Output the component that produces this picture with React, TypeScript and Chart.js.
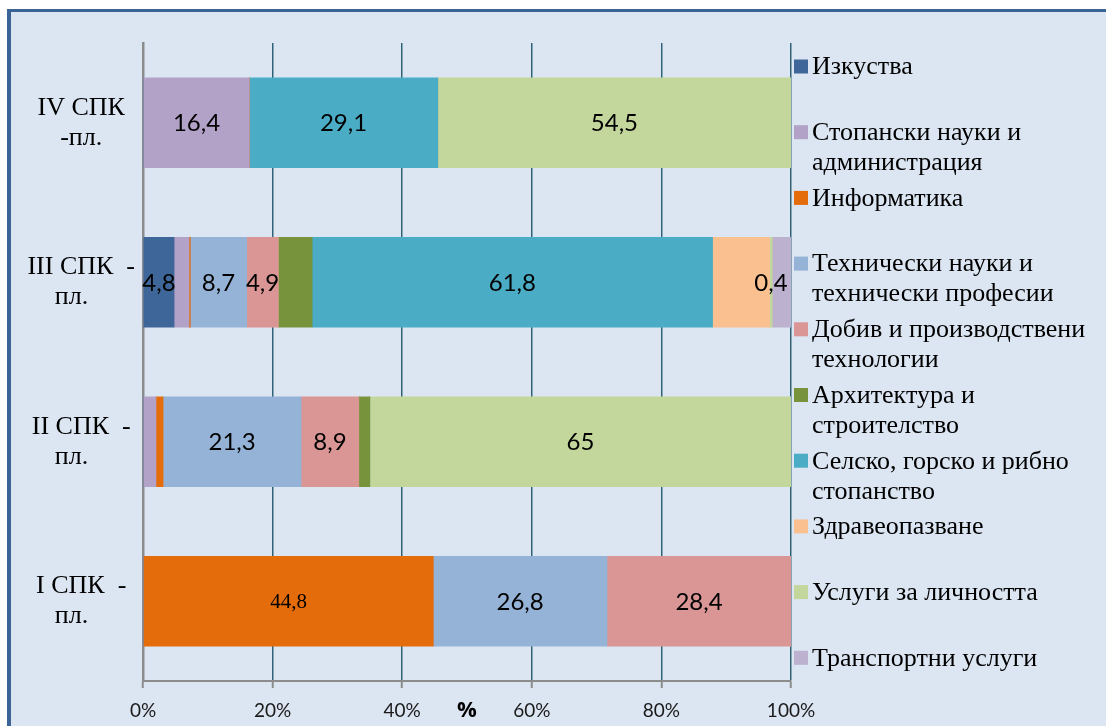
import React, { useEffect, useRef } from 'react';
import { Chart, registerables } from 'chart.js';

Chart.register(...registerables);

// Categories, top to bottom
const categories = [
  ['IV СПК', '-пл.'],
  ['III СПК  -', 'пл.   '],
  ['II СПК  -', 'пл.   '],
  ['I СПК  -', 'пл.   '],
];

// Series names (legend lines)
const seriesNames = [
  ['Изкуства'],
  ['Стопански науки и', 'администрация'],
  ['Информатика'],
  ['Технически науки и', 'технически професии'],
  ['Добив и производствени', 'технологии'],
  ['Архитектура и', 'строителство'],
  ['Селско, горско и рибно', 'стопанство'],
  ['Здравеопазване'],
  ['Услуги за личността'],
  ['Транспортни услуги'],
];

// Values (%) in category order IV, III, II, I
const izkustva = [0, 4.8, 0, 0];
const stopanski = [16.4, 2.3, 2.0, 0];
const informatika = [0, 0.2, 1.1, 44.8];
const tehnicheski = [0, 8.7, 21.3, 26.8];
const dobiv = [0, 4.9, 8.9, 28.4];
const arhitektura = [0, 5.2, 1.7, 0];
const selsko = [29.1, 61.8, 0, 0];
const zdraveopazvane = [0, 8.8, 0, 0];
const uslugi = [54.5, 0.4, 65, 0];
const transport = [0, 2.9, 0, 0];

const seriesValues = [
  izkustva, stopanski, informatika, tehnicheski, dobiv,
  arhitektura, selsko, zdraveopazvane, uslugi, transport,
];

const seriesColors = [
  '#3F6699', '#B3A2C7', '#E46C0A', '#95B3D7', '#D99694',
  '#77933C', '#4BACC6', '#FAC090', '#C3D69B', '#BCB1CF',
];

// Axis ticks
const xTickValues = [0, 20, 40, 60, 80, 100];
const xTitle = '%';

// Which data labels are shown: [series index, category index]
const shownLabels: [number, number][] = [
  [1, 0], [6, 0], [8, 0],
  [0, 1], [3, 1], [4, 1], [6, 1], [8, 1],
  [3, 2], [4, 2], [8, 2],
  [2, 3], [3, 3], [4, 3],
];
const serifLabel: [number, number] = [2, 3];

const W = 1106;
const H = 726;

const backgroundPlugin = {
  id: 'panelBackground',
  beforeDraw(chart: any) {
    const ctx = chart.ctx;
    ctx.save();
    ctx.fillStyle = '#FFFFFF';
    ctx.fillRect(0, 0, W, H);
    ctx.fillStyle = '#DCE6F2';
    ctx.fillRect(7, 9, W, H);
    ctx.fillStyle = '#3A6496';
    ctx.fillRect(7, 9, W, 3);
    ctx.fillRect(7, 9, 4, H);
    ctx.restore();
  },
};

const dataLabelPlugin = {
  id: 'segmentLabels',
  afterDatasetsDraw(chart: any) {
    const ctx = chart.ctx;
    ctx.save();
    ctx.textAlign = 'center';
    ctx.textBaseline = 'middle';
    ctx.fillStyle = '#000000';
    for (const [ds, cat] of shownLabels) {
      const el = chart.getDatasetMeta(ds).data[cat];
      if (!el) continue;
      const v = seriesValues[ds][cat];
      const txt = String(v).replace('.', ',');
      const isSerif = ds === serifLabel[0] && cat === serifLabel[1];
      ctx.font = isSerif ? '21px "Liberation Serif"' : '24px Lato';
      const cx = (el.x + el.base) / 2;
      ctx.fillText(txt, cx, el.y + 1);
    }
    ctx.restore();
  },
};

const legendPlugin = {
  id: 'sideLegend',
  afterDraw(chart: any) {
    const ctx = chart.ctx;
    const top = 67.5;
    const step = 65.7;
    const lineH = 30;
    ctx.save();
    ctx.font = '26px "Liberation Serif"';
    ctx.textAlign = 'left';
    ctx.textBaseline = 'middle';
    seriesNames.forEach((lines, i) => {
      const y = top + i * step;
      ctx.fillStyle = seriesColors[i];
      ctx.fillRect(794, y - 8, 14, 14);
      ctx.fillStyle = '#000000';
      lines.forEach((ln, j) => {
        ctx.fillText(ln, 812, y + j * lineH);
      });
    });
    ctx.restore();
  },
};

export default function App() {
  const ref = useRef<HTMLCanvasElement | null>(null);

  useEffect(() => {
    if (!ref.current) return;
    const chart = new Chart(ref.current, {
      type: 'bar',
      data: {
        labels: categories as any,
        datasets: seriesValues.map((vals, i) => ({
          label: seriesNames[i].join(' '),
          data: vals,
          backgroundColor: seriesColors[i],
          borderWidth: 0,
          barThickness: 90,
        })),
      },
      options: {
        indexAxis: 'y',
        responsive: false,
        animation: false,
        layout: { padding: { left: 10, right: 315, top: 43, bottom: 0 } },
        plugins: {
          legend: { display: false },
          tooltip: { enabled: false },
        },
        scales: {
          x: {
            stacked: true,
            min: 0,
            max: 100,
            afterBuildTicks: (scale: any) => {
              scale.ticks = xTickValues.map((v) => ({ value: v }));
            },
            afterFit: (scale: any) => {
              scale.height = 45;
            },
            ticks: {
              callback: (v: any) => v + '%',
              font: { family: 'Lato', size: 19 },
              color: '#1A1A1A',
              padding: 11,
              maxRotation: 0,
            },
            grid: {
              color: (c: any) => (c.index === 0 ? '#8C8C8C' : '#2F6276'),
              lineWidth: 1.5,
              drawTicks: true,
              tickLength: 7,
              tickColor: '#8C8C8C',
              tickWidth: 2,
            },
            border: { display: true, color: '#8C8C8C', width: 2 },
            title: {
              display: true,
              text: xTitle,
              font: { family: 'Open Sans', size: 22, weight: '700' },
              color: '#000000',
              padding: { top: 0, bottom: 2 },
            },
          },
          y: {
            stacked: true,
            afterFit: (scale: any) => {
              scale.width = 133;
            },
            ticks: {
              font: { family: 'Liberation Serif', size: 26, lineHeight: 1.15 },
              color: '#000000',
              crossAlign: 'center',
              padding: 8,
            },
            grid: { display: false, drawTicks: false },
            border: { display: true, color: '#8C8C8C', width: 2.5 },
          },
        },
      },
      plugins: [backgroundPlugin, dataLabelPlugin, legendPlugin],
    } as any);
    return () => chart.destroy();
  }, []);

  return (
    <div style={{ position: 'fixed', left: 0, top: 0, width: W, height: H }}>
      <canvas ref={ref} width={W} height={H} style={{ width: W, height: H, display: 'block' }} />
    </div>
  );
}
